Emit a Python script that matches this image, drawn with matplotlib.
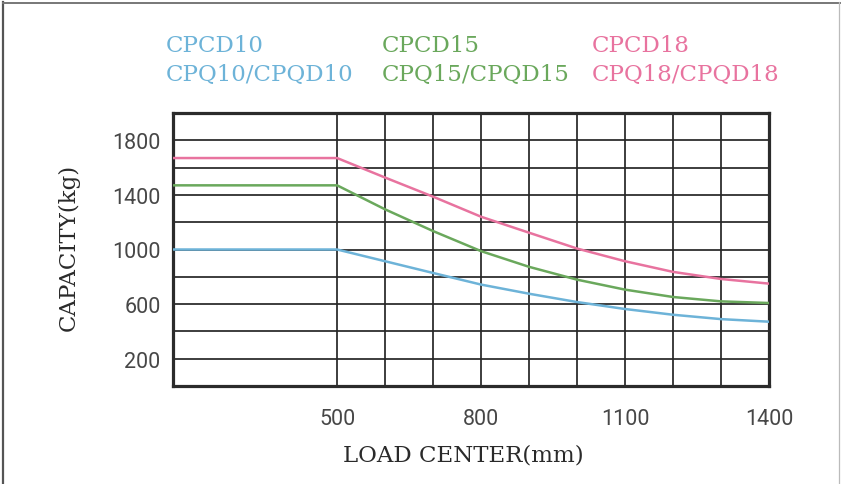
import matplotlib
matplotlib.use("Agg")
import matplotlib.pyplot as plt
from matplotlib.lines import Line2D

# ---- data ----
load_center = [0, 500, 600, 700, 800, 900, 1000, 1100, 1200, 1300, 1400]
cap_10 = [1000, 1000, 914, 828, 743, 676, 615, 564, 522, 490, 471]
cap_15 = [1470, 1470, 1294, 1135, 988, 873, 779, 706, 652, 620, 608]
cap_18 = [1670, 1670, 1527, 1387, 1240, 1123, 1007, 914, 836, 784, 750]

legend_10 = ["CPCD10", "CPQ10/CPQD10"]
legend_15 = ["CPCD15", "CPQ15/CPQD15"]
legend_18 = ["CPCD18", "CPQ18/CPQD18"]

x_ticks = [500, 800, 1100, 1400]
y_ticks = [200, 600, 1000, 1400, 1800]
x_grid = [500, 600, 700, 800, 900, 1000, 1100, 1200, 1300]
y_grid = [200, 400, 600, 800, 1000, 1200, 1400, 1600, 1800]

c_blue = "#6db3d8"
c_green = "#6aa85c"
c_pink = "#e8739f"

W, H = 841, 485
fig = plt.figure(figsize=(W / 100, H / 100), dpi=100)
fig.patch.set_facecolor("white")

def fx(px):
    return px / W

def fy(py):
    return 1 - py / H

ax = fig.add_axes([fx(173), fy(387), (769 - 173) / W, (387 - 114) / H])
ax.set_xlim(158, 1400)
ax.set_ylim(0, 2000)

grid_col = "#262626"
for xv in x_grid:
    ax.axvline(xv, color=grid_col, lw=1.25, zorder=1)
for yv in y_grid:
    ax.axhline(yv, color=grid_col, lw=1.25, zorder=1)

ax.plot(load_center, cap_18, color=c_pink, lw=1.8, zorder=3)
ax.plot(load_center, cap_15, color=c_green, lw=1.8, zorder=3)
ax.plot(load_center, cap_10, color=c_blue, lw=1.8, zorder=3)

for s in ax.spines.values():
    s.set_linewidth(2.3)
    s.set_color("#2b2b2b")

ax.set_xticks(x_ticks)
ax.set_yticks(y_ticks)
ax.tick_params(length=0)
ax.tick_params(axis="x", pad=16)
ax.tick_params(axis="y", pad=9)
tick_font = dict(family=["Roboto", "DejaVu Sans"], size=15.5, weight="normal")
ax.set_xticklabels([str(v) for v in x_ticks], color="#474747", **tick_font)
ax.set_yticklabels([str(v) for v in y_ticks], color="#474747", **tick_font)

serif = ["DejaVu Serif"]
fig.text(fx(463), fy(456), "LOAD CENTER(mm)", ha="center", va="center",
         family=serif, size=16.5, color="#2a2a2a")
fig.text(fx(69), fy(247), "CAPACITY(kg)", ha="center", va="center",
         rotation=90, family=serif, size=16.5, color="#2a2a2a")

# legend-like labels
cols = [(166, legend_10, c_blue), (382, legend_15, c_green), (592, legend_18, c_pink)]
for xpx, labels, col in cols:
    for ypx, lab in zip([52, 81], labels):
        fig.text(fx(xpx), fy(ypx), lab, ha="left", va="baseline",
                 family=serif, size=16.5, color=col)

# outer frame lines
fig.add_artist(Line2D([fx(3), fx(3)], [0, fy(3)], transform=fig.transFigure,
                      color="#555555", lw=1.6))
fig.add_artist(Line2D([fx(3), 1], [fy(3.5), fy(3.5)], transform=fig.transFigure,
                      color="#777777", lw=1.4))
fig.add_artist(Line2D([fx(839), fx(839)], [0, fy(3)], transform=fig.transFigure,
                      color="#bbbbbb", lw=0.9))

fig.savefig("out.png", dpi=100, facecolor="white")
